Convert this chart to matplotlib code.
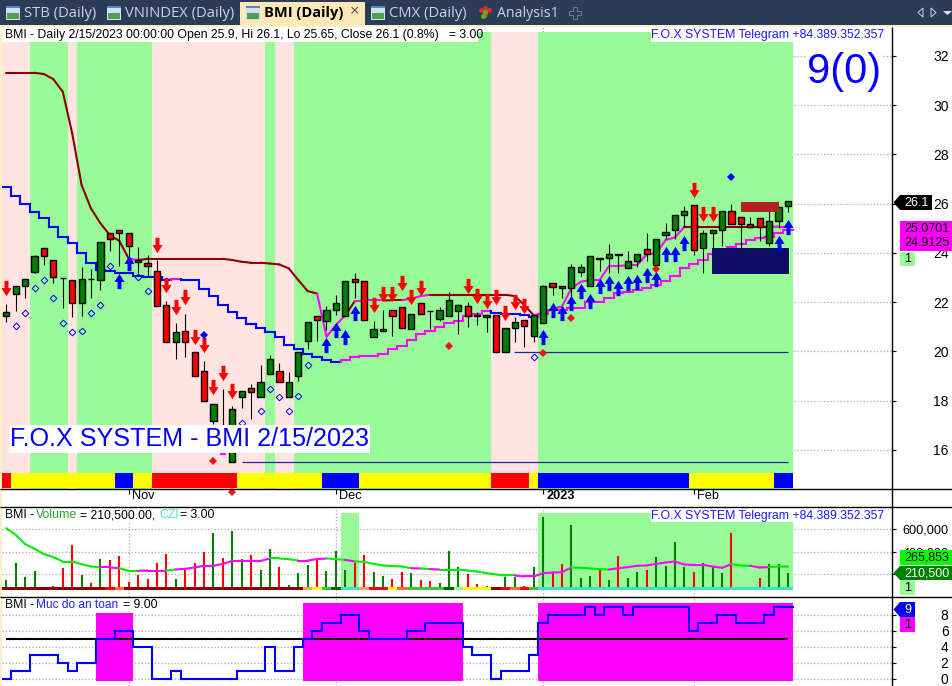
import matplotlib
matplotlib.use("Agg")
import matplotlib.pyplot as plt
from matplotlib.path import Path
from matplotlib.patches import Polygon, Rectangle
from matplotlib.transforms import ScaledTranslation

plt.rcParams['font.family'] = ['Liberation Sans', 'DejaVu Sans']

# --- price data, one row per session ---
opens = [21.45, 22.35, 22.64, 23.23, 24.18, 23.73, 22.99, 22.92, 21.95, 22.95, 22.91, 24.82, 24.95, 24.79,
         23.73, 23.61, 23.25, 21.87, 20.37, 20.81, 19.96, 19.19, 17.19, 16.5, 15.5, 18.16, 18.5, 18.17,
         19.07, 19.19, 18.17, 18.99, 20.42, 21.45, 21.24, 21.7, 21.45, 22.96, 22.84, 20.57, 20.93, 21.7,
         21.81, 20.93, 21.95, 21.66, 21.3, 21.42, 21.66, 21.83, 21.46, 21.38, 21.46, 19.96, 20.97, 21.26,
         20.61, 21.14, 22.76, 22.64, 22.56, 23.24, 22.64, 23.78, 23.8, 23.94, 23.37, 23.66, 24.14, 23.49,
         24.72, 24.95, 25.52, 25.93, 24.18, 24.79, 24.95, 25.69, 25.44, 25.16, 25.4, 24.39, 25.28, 25.9]
highs = [21.92, 22.64, 22.95, 23.91, 24.18, 23.73, 22.99, 22.92, 23.42, 23.33, 24.46, 24.82, 24.95, 24.79,
         24.25, 23.91, 23.73, 22.03, 21.14, 21.54, 19.96, 19.61, 17.85, 18.47, 17.78, 18.38, 18.67, 19.43,
         19.84, 19.55, 19.15, 19.96, 21.18, 21.45, 21.84, 22.29, 22.84, 23.2, 22.84, 21.22, 21.68, 21.7,
         21.81, 21.5, 21.95, 21.66, 21.79, 22.43, 21.91, 22.0, 21.62, 21.46, 21.46, 20.97, 21.38, 21.26,
         21.46, 22.68, 22.76, 22.64, 23.53, 23.53, 23.86, 23.78, 24.35, 23.94, 24.06, 23.94, 24.79, 24.55,
         25.2, 25.52, 25.9, 25.93, 24.91, 24.95, 25.69, 26.0, 25.44, 25.44, 25.4, 25.77, 25.85, 26.1]
lows = [21.2, 21.65, 22.18, 23.19, 23.5, 22.79, 21.77, 21.39, 21.45, 22.16, 22.5, 24.09, 23.48, 23.84,
        23.2, 23.06, 21.85, 20.37, 19.7, 19.78, 18.99, 17.97, 17.05, 15.9, 15.5, 17.7, 17.25, 18.17,
        19.07, 18.74, 18.17, 18.81, 20.08, 20.43, 20.87, 21.47, 21.45, 22.18, 21.26, 20.57, 20.85, 20.64,
        20.97, 20.91, 21.5, 20.93, 21.22, 21.42, 20.7, 21.0, 21.07, 20.8, 19.96, 19.96, 20.39, 20.19,
        20.39, 21.14, 22.29, 22.18, 21.95, 23.06, 22.64, 23.28, 23.17, 23.2, 23.37, 23.44, 23.68, 23.49,
        24.56, 24.55, 25.04, 23.91, 23.2, 23.8, 24.28, 25.16, 24.14, 25.0, 24.5, 24.29, 25.0, 25.65]
closes = [21.62, 22.64, 22.95, 23.86, 23.86, 23.04, 22.97, 21.95, 22.96, 22.93, 24.46, 24.55, 24.79, 24.26,
          23.65, 23.45, 21.85, 20.37, 20.77, 20.37, 18.99, 17.97, 17.85, 16.48, 17.65, 18.38, 18.36, 18.78,
          19.68, 18.74, 18.78, 19.96, 21.18, 21.29, 21.7, 21.95, 22.84, 22.83, 21.26, 20.93, 20.85, 21.45,
          20.97, 21.5, 21.5, 21.64, 21.7, 22.07, 21.87, 21.43, 21.44, 21.46, 19.96, 20.97, 21.18, 21.02,
          21.46, 22.64, 22.6, 22.56, 23.41, 23.41, 23.86, 23.76, 23.94, 23.92, 23.66, 23.94, 23.94, 24.55,
          24.83, 25.52, 25.69, 24.1, 24.79, 24.95, 25.69, 25.16, 25.16, 25.04, 25.04, 25.28, 25.85, 26.1]

# --- overlay lines ---
upper_line = [31.31, 31.31, 31.31, 31.31, 31.26, 31.05, 30.54, 28.85, 26.75, 25.8, 25.2, 24.72, 24.49, 23.77,
              23.71, 23.76, 23.76, 23.76, 23.76, 23.76, 23.76, 23.76, 23.76, 23.76, 23.71, 23.64, 23.6, 23.6,
              23.57, 23.53, 23.37, 22.9, 22.45, 22.35, 20.6, 21.07, 21.47, 22.04, 22.07, 22.07, 22.07, 22.08,
              22.08, 22.14, 22.25, 22.3, 22.3, 22.3, 22.3, 22.3, 22.3, 22.3, 22.3, 22.3, 22.25, 21.88,
              21.47, 21.54, 21.74, 21.82, 22.56, 22.83, 22.9, 22.9, 23.47, 23.47, 23.5, 23.5, 23.95, 23.98,
              24.52, 24.63, 25.06, 25.06, 25.06, 25.06, 25.06, 25.06, 25.06, 25.06, 25.06, 25.06, 25.07, 25.07]
upper_magenta = [14, 34, 35, 36, 38, 39, 40, 43, 44, 45] + list(range(57, 73)) + [82, 83]

lower_line = [26.66, 26.29, 25.97, 25.68, 25.4, 25.07, 24.65, 24.4, 23.98, 23.58, 23.3, 23.26, 23.19, 23.19,
              23.07, 23.02, 23.02, 22.91, 22.94, 22.9, 22.9, 22.53, 22.25, 21.87, 21.61, 21.37, 21.1, 20.96,
              20.8, 20.6, 20.28, 20.08, 19.89, 19.77, 19.65, 19.57, 19.65, 19.77, 19.8, 19.8, 19.88, 20.08,
              20.22, 20.46, 20.69, 20.81, 21.0, 21.16, 21.24, 21.43, 21.54, 21.65, 21.57, 21.54, 21.51, 21.47,
              21.41, 21.54, 21.68, 21.68, 21.78, 21.78, 22.02, 22.02, 22.16, 22.36, 22.43, 22.49, 22.56, 22.69,
              22.87, 23.06, 23.37, 23.53, 23.71, 23.94, 24.12, 24.25, 24.36, 24.52, 24.59, 24.63, 24.79, 24.91]
lower_magenta = [18] + list(range(36, 52)) + list(range(57, 84))

# --- signal markers: bar index, price ---
down_idx = [0, 16, 17, 18, 19, 20, 21, 22, 23, 24, 39, 40, 41, 42, 43, 44, 49, 50, 51, 52, 53, 54, 55, 73, 74, 75]
down_val = [22.56, 24.34, 22.68, 21.79, 22.19, 20.57, 20.26, 18.54, 19.11, 18.4, 21.87, 22.33, 22.33, 22.76,
            22.19, 22.56, 22.64, 22.27, 22.06, 22.22, 21.58, 22.0, 21.85, 26.55, 25.58, 25.58]
up_idx = [12, 13, 34, 35, 36, 37, 57, 58, 59, 60, 61, 62, 63, 64, 65, 66, 67, 68, 69, 70, 71, 72, 82, 83]
up_val = [22.87, 23.6, 20.28, 20.87, 20.6, 21.57, 20.57, 21.7, 21.57, 21.97, 22.44, 22.06, 22.66, 22.79,
          22.57, 22.79, 22.83, 23.09, 22.93, 23.97, 23.97, 24.39, 24.4, 25.04]
hollow_idx = [1, 2, 3, 4, 5, 6, 7, 8, 9, 10, 11, 14, 15, 25, 27, 28, 29, 30, 31, 32, 56]
hollow_val = [21.03, 21.56, 22.57, 22.89, 22.16, 21.15, 20.78, 20.83, 21.56, 21.88, 23.46, 23.03, 22.46, 17.1,
              17.58, 18.47, 18.15, 17.58, 18.19, 19.45, 19.77]
red_dot_idx = [22, 24, 47, 57, 60, 69]
red_dot_val = [15.56, 14.28, 20.22, 19.93, 21.37, 23.36]
blue_dot_idx = [21, 77]
blue_dot_val = [20.66, 27.08]

# P = pink, G = green session background
bg_state = ['P'] * 3 + ['G'] * 4 + ['P'] + ['G'] * 8 + ['P'] * 12 + ['G'] + ['P'] * 2 + ['G'] * 21 + ['P'] * 5 + ['G'] * 27
# ribbon under the price panel
ribbon_top = ['r'] + ['y'] * 11 + ['b'] * 2 + ['y'] * 2 + ['r'] * 9 + ['y'] * 9 + ['b'] * 4 + ['y'] * 14 \
    + ['r'] * 4 + ['y'] + ['b'] * 16 + ['y'] * 9 + ['b'] * 2

# --- volume panel ---
volume = [148e3, 296e3, 172e3, 228e3, 83e3, 95e3, 255e3, 459e3, 193e3, 119e3, 332e3, 326e3, 361e3, 130e3,
          193e3, 157e3, 299e3, 379e3, 157e3, 246e3, 299e3, 397e3, 566e3, 344e3, 584e3, 335e3, 370e3, 237e3,
          424e3, 264e3, 104e3, 210e3, 281e3, 344e3, 228e3, 406e3, 237e3, 299e3, 370e3, 219e3, 184e3, 157e3,
          219e3, 210e3, 148e3, 139e3, 121e3, 406e3, 264e3, 201e3, 113e3, 95e3, 75e3, 175e3, 175e3, 95e3,
          264e3, 708e3, 210e3, 290e3, 637e3, 166e3, 184e3, 246e3, 148e3, 361e3, 166e3, 219e3, 237e3, 353e3,
          273e3, 486e3, 264e3, 219e3, 299e3, 264e3, 210e3, 566e3, 86e3, 68e3, 166e3, 290e3, 290e3, 210.5e3]
vol_red = [4, 5, 6, 7, 9, 11, 12, 13, 14, 15, 16, 17, 19, 20, 21, 23, 26, 29, 33, 37, 38, 41, 42, 44, 45, 49, 50,
           52, 55, 58, 59, 63, 65, 68, 73, 77, 78, 79, 80]
vol_ma = [607e3, 548e3, 465e3, 424e3, 376e3, 350e3, 311e3, 311e3, 287e3, 267e3, 258e3, 258e3, 252e3, 228e3,
          228e3, 231e3, 231e3, 231e3, 240e3, 246e3, 258e3, 273e3, 273e3, 290e3, 317e3, 317e3, 317e3, 317e3,
          338e3, 338e3, 332e3, 320e3, 320e3, 332e3, 338e3, 332e3, 326e3, 311e3, 308e3, 290e3, 276e3, 270e3,
          267e3, 252e3, 249e3, 243e3, 240e3, 240e3, 240e3, 231e3, 222e3, 207e3, 196e3, 187e3, 187e3, 178e3,
          178e3, 207e3, 213e3, 216e3, 258e3, 255e3, 249e3, 243e3, 240e3, 252e3, 261e3, 273e3, 276e3, 290e3,
          302e3, 311e3, 284e3, 281e3, 281e3, 267e3, 255e3, 287e3, 276e3, 273e3, 258e3, 261e3, 267e3, 265.853e3]
vol_ma_magenta = [11, 12, 15, 16, 17, 19, 20, 21, 22, 23, 24, 25, 26, 27, 28, 32, 33, 34, 37, 44, 46, 55, 56, 57, 58,
                  59, 60, 65, 66, 67, 68, 69, 70, 71, 72, 73, 74, 75, 76, 77, 80, 81]
vol_ribbon = ['dr'] * 11 + ['r', 'o'] + ['dr'] * 19 + ['s', 'y', 'l', 'dg', 't', 't', 's', 'r', 'r', 'y', 'o'] \
    + ['g'] * 4 + ['dg', 'pg', 'y', 'y', 'y', 'dr', 'r', 'o', 'r', 'g'] + ['t'] * 27
vol_band_idx = [36, 37] + list(range(57, 84))

# --- Muc do an toan panel ---
safety = [0, 1, 1, 3, 3, 3, 2, 1, 2, 2, 5, 5, 6, 6, 4, 4, 0, 0, 1, 0, 0, 0, 0, 0, 0, 1, 1, 1, 4, 1, 1, 4,
          5, 6, 7, 7, 8, 8, 6, 5, 5, 5, 5, 6, 6, 7, 7, 7, 7, 4, 3, 3, 0, 1, 1, 1, 3, 7, 8, 8, 8, 8, 9, 8,
          9, 9, 8, 9, 9, 9, 9, 9, 9, 6, 7, 7, 8, 8, 7, 7, 7, 8, 9, 9]
safe_band_idx = list(range(10, 14)) + list(range(32, 49)) + list(range(57, 84))

price_ticks = [16, 18, 20, 22, 24, 26, 28, 30, 32]
volume_ticks = [200000, 400000, 600000]
safety_ticks = [0, 2, 4, 6, 8]
month_idx = [13, 35, 57, 73]
month_labels = ['Nov', 'Dec', '2023', 'Feb']

W, H = 953, 686
GREEN_BG, PINK_BG = '#98fb98', '#ffe4e1'
COLORS = {'r': '#ff0000', 'y': '#ffff00', 'b': '#0000ff', 'dr': '#8b0000', 'o': '#ff6a35', 's': '#f4a460',
          'l': '#32cd32', 'dg': '#006400', 't': '#40e0d0', 'g': '#3cc43c', 'pg': GREEN_BG}
FRAME = '#2c3b58'
SANS = ['Liberation Sans', 'DejaVu Sans']
TAB_FONT = ['Open Sans', 'DejaVu Sans']

# down arrow: shaft on top, head at bottom
DOWN = Path([(-0.26, 1), (0.26, 1), (0.26, 0.05), (0.66, 0.05), (0, -1), (-0.66, 0.05), (-0.26, 0.05), (-0.26, 1)], closed=True)
UP = Path([(-0.26, -1), (0.26, -1), (0.26, -0.05), (0.66, -0.05), (0, 1), (-0.66, -0.05), (-0.26, -0.05), (-0.26, -1)], closed=True)

fig = plt.figure(figsize=(W / 100, H / 100), dpi=100, facecolor='white')


def panel(top, bottom):
    return fig.add_axes([2 / W, 1 - bottom / H, 890.5 / W, (bottom - top) / H])


ax1 = panel(26, 489)
ax2 = panel(506.5, 596.5)
ax3 = panel(596.5, 686)
xmin, xmax = -0.455, 94.1
ax1.set_ylim(14.417, 33.21)
ax2.set_ylim(0, 800000)
ax3.set_ylim(-0.875, 10.3)

n = len(closes)
xs = list(range(n))

for ax, ticks in ((ax1, price_ticks), (ax2, volume_ticks), (ax3, safety_ticks)):
    ax.set_xlim(xmin, xmax)
    ax.patch.set_alpha(0)
    for s in ax.spines.values():
        s.set_visible(False)
    ax.yaxis.tick_right()
    ax.set_yticks(ticks)
    if ax is ax2:
        ax.set_yticklabels([f'{t:,}' for t in ticks])
    ax.tick_params(axis='y', length=3.2, width=0.8, color='black', pad=37.2, labelsize=9.2 if ax is ax2 else 10)
    for lab in ax.get_yticklabels():
        lab.set_ha('right')
    ax.grid(True, axis='y', linestyle=':', color='#aaaaaa', linewidth=0.9, zorder=0)
    ax.set_axisbelow(True)
    for m in month_idx:
        ax.axvline(m, linestyle=':', color='#aaaaaa', linewidth=0.9, zorder=0)
    if ax is not ax1:
        ax.set_xticks([])

# --- price panel ---
ax1.bar(xs, 32.96 - 14.417, bottom=14.417, width=1, linewidth=0, antialiased=False, zorder=1,
        color=[GREEN_BG if s == 'G' else PINK_BG for s in bg_state])
ax1.bar(xs, 15.07 - 14.46, bottom=14.46, width=1, linewidth=0, antialiased=False, zorder=1.5,
        color=[COLORS[c] for c in ribbon_top])

ax1.hlines(15.5, 25, 83, color='#2222aa', linewidth=0.9, zorder=2)
ax1.hlines(19.96, 53.9, 83, color='#2222aa', linewidth=0.9, zorder=2)
ax1.hlines(15.83, 22.7, 23.3, color='#ff00ff', linewidth=1.5, zorder=2)

for i in xs:
    c = '#ff00ff' if i in lower_magenta else '#0000ff'
    ax1.plot([i - 0.5, i + 0.5], [lower_line[i]] * 2, color=c, lw=1.5, solid_capstyle='projecting', zorder=3)
    if i:
        ax1.plot([i - 0.5, i - 0.5], lower_line[i - 1:i + 1], color=c, lw=1.5, zorder=3)
    if i:
        c2 = '#ff00ff' if i in upper_magenta else '#8b0000'
        ax1.plot([i - 1, i], upper_line[i - 1:i + 1], color=c2, lw=1.5, solid_capstyle='round', zorder=3)

# candles
ax1.vlines(xs, lows, highs, color='black', linewidth=0.8, zorder=4)
tops = [max(o, c) for o, c in zip(opens, closes)]
bots = [min(o, c) for o, c in zip(opens, closes)]
cols = ['#008000' if c >= o else '#ff0000' for o, c in zip(opens, closes)]
ax1.bar(xs, [t - b for t, b in zip(tops, bots)], bottom=bots, width=0.66, color=cols,
        edgecolor='black', linewidth=1.0, zorder=4.5)

ax1.add_patch(Rectangle((74.9, 23.14), 8.2, 1.04, facecolor='#0d0d66', edgecolor='none', zorder=5))
ax1.add_patch(Rectangle((78, 25.66), 4, 0.4, facecolor='#b22222', edgecolor='none', zorder=5))

ax1.plot(down_idx, down_val, linestyle='none', marker=DOWN, markersize=11, color='#ff0000', markeredgewidth=0, zorder=6)
ax1.plot(up_idx, up_val, linestyle='none', marker=UP, markersize=11, color='#0000ff', markeredgewidth=0, zorder=6)
ax1.plot(hollow_idx, hollow_val, linestyle='none', marker='D', markersize=3.4, markerfacecolor='none',
         markeredgecolor='#0000ff', markeredgewidth=0.7, zorder=6)
ax1.plot(red_dot_idx, red_dot_val, linestyle='none', marker='D', markersize=3.6, color='#ee1111',
         markeredgewidth=0, zorder=6, clip_on=False)
ax1.plot(blue_dot_idx, blue_dot_val, linestyle='none', marker='D', markersize=3.6, color='#0000ff',
         markeredgewidth=0, zorder=6)

ax1.set_xticks(month_idx)
ax1.set_xticklabels(month_labels)
ax1.tick_params(axis='x', length=3.6, width=0.8, color='black', pad=-3, labelsize=9.2)
for lab, txt in zip(ax1.get_xticklabels(), month_labels):
    lab.set_ha('left')
    lab.set_transform(lab.get_transform() + ScaledTranslation(3 / 100, 0, fig.dpi_scale_trans))
    if txt == '2023':
        lab.set_fontweight('bold')

# --- volume panel ---
base = 56000
ax2.bar(vol_band_idx, 742000 - base, bottom=base, width=1, color=GREEN_BG, linewidth=0, antialiased=False, zorder=1)
ax2.vlines(xs, base, volume, linewidth=1.5, zorder=2,
           colors=['#ff0000' if i in vol_red else '#008000' for i in xs])
ax2.bar(xs, 30000, bottom=base, width=1, linewidth=0, antialiased=False, zorder=3,
        color=[COLORS[c] for c in vol_ribbon])
for i in xs[1:]:
    c = '#ff00ff' if i in vol_ma_magenta else '#00ee00'
    ax2.plot([i - 1, i], vol_ma[i - 1:i + 1], color=c, lw=1.5, solid_capstyle='round', zorder=4)

# --- safety panel ---
ax3.bar(safe_band_idx, 9.75, bottom=-0.25, width=1, color='#ff00ff', linewidth=0, antialiased=False, zorder=1)
ax3.hlines(5, 0, 83, color='black', linewidth=1.5, zorder=2)
for i in xs:
    ax3.plot([i - 0.5, i + 0.5], [safety[i]] * 2, color='#0000ff', lw=1.5, solid_capstyle='projecting', zorder=3)
    if i:
        ax3.plot([i - 0.5, i - 0.5], safety[i - 1:i + 1], color='#0000ff', lw=1.5, zorder=3)

# --- chrome on top, in pixel coordinates ---
ov = fig.add_axes([0, 0, 1, 1], zorder=20)
ov.set_xlim(0, W)
ov.set_ylim(H, 0)
ov.axis('off')


def box(x0, y0, x1, y1, color, z=1):
    ov.add_patch(Rectangle((x0, y0), x1 - x0, y1 - y0, facecolor=color, edgecolor='none', zorder=z))


def label(x, y, s, color='black', size=8.8, family=None, weight='normal', ha='left', z=3):
    ov.text(x, y, s, color=color, fontsize=size, family=family or SANS, fontweight=weight, ha=ha, va='center', zorder=z)


# tab strip
box(0, 0, W, 25, FRAME)
box(0, 25, W, 27, '#fdf0c8')
box(0, 25, 2, H, '#fdf0c8')
box(240, 2, 365, 25, '#fde9b8')
for tx, name in ((24, 'STB (Daily)'), (125, 'VNINDEX (Daily)'), (389, 'CMX (Daily)')):
    label(tx, 13.5, name, color='#c9d3e2', size=10.6, family=TAB_FONT)
label(497, 13.5, 'Analysis1', color='#c9d3e2', size=10.2, family=TAB_FONT)
label(264, 13.5, 'BMI (Daily)', size=10.5, family=TAB_FONT, weight='bold')
label(350, 12.5, '×', color='#555555', size=12, family=TAB_FONT)
for ix in (6, 107, 246, 371):
    box(ix, 6, ix + 14, 20, '#cfe0f4', z=2)
    box(ix + 1, 13, ix + 13, 19, '#4fa04f', z=2)
    box(ix, 6, ix + 14, 8, '#5f86b8', z=2)
ov.plot([481, 485, 489, 485], [10, 8, 10, 15], linestyle='none', marker='o', markersize=3.5, markeredgewidth=0,
        zorder=2, color='#d83020')
ov.plot([485, 483], [12, 16], linestyle='none', marker='o', markersize=3.5, color='#60b030', markeredgewidth=0, zorder=2)
ov.plot(575, 13, marker='P', markersize=8, markerfacecolor='none', markeredgecolor='#6f7c92', markeredgewidth=0.7)
ov.add_patch(Polygon([(923, 8), (923, 17), (918, 12.5)], closed=True, facecolor='none', edgecolor='#c9d3e2', linewidth=0.7))
ov.add_patch(Polygon([(931, 8), (931, 17), (936, 12.5)], closed=True, facecolor='none', edgecolor='#c9d3e2', linewidth=0.7))
ov.add_patch(Polygon([(943, 11), (952, 11), (947.5, 15)], closed=True, facecolor='#dde3ec', edgecolor='none'))

# frame lines
for y in (489, 506.5, 596.5):
    ov.plot([0, W], [y, y], color='black', lw=1.0, solid_capstyle='butt', zorder=2)
ov.plot([892.5, 892.5], [27, H], color='black', lw=1.0, solid_capstyle='butt', zorder=2)

# panel titles with their white backgrounds
box(2, 27, 478, 42, 'white')
label(5, 35, 'BMI - Daily 2/15/2023 00:00:00 Open 25.9, Hi 26.1, Lo 25.65, Close 26.1 (0.8%)   = 3.00')
box(651, 29, 883, 42, 'white')
label(651, 35, 'F.O.X SYSTEM Telegram +84.389.352.357', color='#1a1aff')
box(806, 50, 882, 96, 'white')
label(807, 72, '9(0)', color='#0000ff', size=30)
box(9, 425, 370, 453, 'white', z=1.5)
label(10, 439.5, 'F.O.X SYSTEM - BMI 2/15/2023', color='#0000ff', size=18.1)

box(3, 507.5, 214, 522, 'white')
label(5, 515.5, 'BMI -')
label(36, 515.5, 'Volume', color='#2ca02c')
label(80, 515.5, '= 210,500.00,')
label(159, 515.5, 'CZI', color='#40e0d0')
label(180, 515.5, '= 3.00')
box(651, 507.5, 883, 522, 'white')
label(651, 515.5, 'F.O.X SYSTEM Telegram +84.389.352.357', color='#1a1aff')

box(3, 597.5, 155, 613, 'white')
label(5, 605.5, 'BMI -')
label(36, 605.5, 'Muc do an toan', color='#2020ff', size=8.6)
label(123, 605.5, '= 9.00')


def tag(y0, y1, x1, color):
    mid = (y0 + y1) / 2
    ov.add_patch(Polygon([(893.5, mid), (900, y0), (x1, y0), (x1, y1), (900, y1)], closed=True, facecolor=color,
                         edgecolor='none', zorder=2))


# value badges
tag(195, 210, 932, 'black')
label(904, 203, '26.1', color='white', size=9)
box(900, 221, 953, 251, '#ff00ff', z=2)
label(904, 229, '25.0701', size=9)
label(904, 243, '24.9125', size=9)
box(900, 252, 915, 266, GREEN_BG, z=2)
label(904, 259.5, '1', size=9)

box(900, 550, 953, 565, '#00ff00', z=2)
label(904, 558, '265,853', size=9)
tag(566, 580, 953, '#008000')
label(904, 573, '210,500', color='white', size=9)
box(900, 580, 915, 595, GREEN_BG, z=2)
label(904, 588, '1', size=9)

tag(602, 617, 915, '#0000ff')
label(904, 610, '9', color='white', size=9)
box(900, 617, 915, 632, '#ff00ff', z=2)
label(904, 625, '1', size=9)

fig.savefig('out.png', dpi=100)
